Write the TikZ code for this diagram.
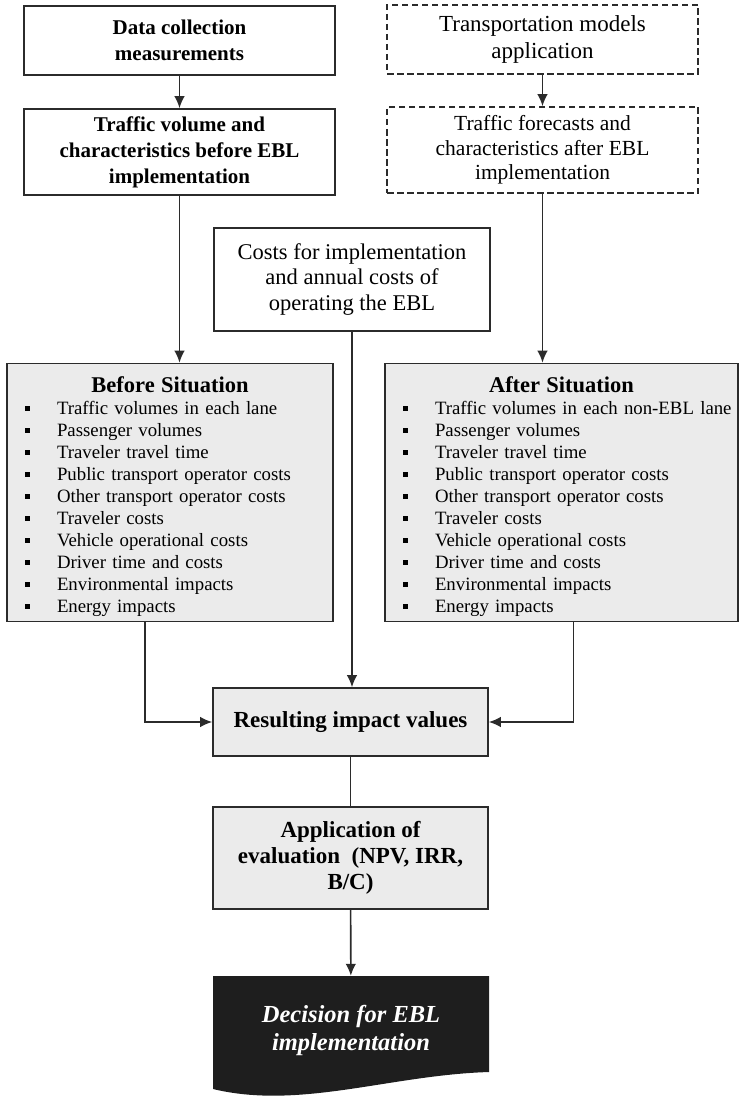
\documentclass[tikz,border=0pt]{standalone}
\usepackage{fontspec}
\setmainfont{Liberation Serif}
\usepackage{tikz}
\usetikzlibrary{shapes,calc,arrows,arrows.meta,positioning}
\definecolor{boxgray}{HTML}{EBEBEB}
\definecolor{decisionblack}{HTML}{1E1E1E}
\definecolor{linegray}{HTML}{2B2B2B}
\tikzstyle{arrow} = [draw=linegray, -{Latex[length=12pt,width=10.5pt]}, line width=1.6pt]
\tikzstyle{link} = [draw=linegray, line width=1.6pt]
\tikzstyle{topbox} = [draw=linegray, line width=1.6pt, rectangle, align=center, inner sep=0pt, minimum width=311pt, font=\fontsize{22}{26}\selectfont]
\tikzstyle{topboldbox} = [topbox, font=\fontsize{21}{26}\selectfont\bfseries]
\tikzstyle{modelbox} = [topbox, dash pattern=on 6.5pt off 3.5pt]
\tikzstyle{sitbox} = [draw=linegray, line width=1.6pt, fill=boxgray, align=left, inner sep=0pt, minimum height=258pt, font=\fontsize{18.8}{22}\selectfont]
\tikzstyle{resultbox} = [draw=linegray, line width=1.6pt, fill=boxgray, align=center, inner sep=0pt, minimum width=275pt, font=\fontsize{23}{26}\selectfont\bfseries]
\tikzstyle{decisiontext} = [align=center, inner sep=0pt, minimum width=276pt, minimum height=109pt, text=white, font=\fontsize{24.5}{28}\selectfont\bfseries\itshape]
\newcommand{\sqitem}[1]{\hspace*{18pt}\makebox[32pt][l]{\rule[4pt]{5pt}{5pt}}#1}
\newcommand{\sithead}[1]{\makebox[\hsize]{\rule{0pt}{25pt}\fontsize{22.5}{22}\selectfont\bfseries #1}}

\begin{document}
\begin{tikzpicture}[x=1pt,y=-1pt]
    \useasboundingbox (0,0) rectangle (739,1097);
    % measured side
    \node[topboldbox, minimum height=69pt] (datacol) at (179.5,40.5) {Data collection\\measurements};
    \node[topboldbox, minimum height=86pt] (trafvol) at (179.5,152) {Traffic volume and\\characteristics before EBL\\implementation};
    % modelled side
    \node[modelbox, minimum height=69pt, font=\fontsize{23}{27}\selectfont] (transmod) at (542.5,39.5) {Transportation models\\application};
    \node[modelbox, minimum height=86pt, font=\fontsize{21.5}{24.5}\selectfont] (trafcast) at (542.5,150) {Traffic forecasts and\\characteristics after EBL\\implementation};
    \node[topbox, minimum width=276pt, minimum height=103pt, font=\fontsize{22.5}{25.5}\selectfont] (costs) at (352,279.5) {Costs for implementation\\and annual costs of\\operating the EBL};
    \node[sitbox, text width=326pt] (before) at (170,492.5) {\sithead{Before Situation}\\
      \sqitem{Traffic volumes in each lane}\\
      \sqitem{Passenger volumes}\\
      \sqitem{Traveler travel time}\\
      \sqitem{Public transport operator costs}\\
      \sqitem{Other transport operator costs}\\
      \sqitem{Traveler costs}\\
      \sqitem{Vehicle operational costs}\\
      \sqitem{Driver time and costs}\\
      \sqitem{Environmental impacts}\\
      \sqitem{Energy impacts}};
    \node[sitbox, text width=353pt] (after) at (561.5,492.5) {\sithead{After Situation}\\
      \sqitem{Traffic volumes in each non-EBL lane}\\
      \sqitem{Passenger volumes}\\
      \sqitem{Traveler travel time}\\
      \sqitem{Public transport operator costs}\\
      \sqitem{Other transport operator costs}\\
      \sqitem{Traveler costs}\\
      \sqitem{Vehicle operational costs}\\
      \sqitem{Driver time and costs}\\
      \sqitem{Environmental impacts}\\
      \sqitem{Energy impacts}};
    \node[resultbox, minimum height=68pt] (result) at (350.5,722) {Resulting impact values};
    \node[resultbox, minimum height=102pt] (evalapp) at (350.5,858) {Application of\\evaluation~ (NPV, IRR,\\B/C)};
    % document shape with wavy bottom
    \fill[decisionblack] (213,976) -- (489,976) -- (489,1072) .. controls (390,1075) and (300,1110) .. (213,1089) -- cycle;
    \node[decisiontext] (decision) at (351,1030.5) {Decision for EBL\\implementation};

    \draw[arrow] (datacol) -- (trafvol);
    \draw[arrow] (transmod) -- (trafcast);
    \draw[arrow] (trafvol.south) -- (trafvol.south |- before.north);
    \draw[arrow] (trafcast.south) -- (trafcast.south |- after.north);
    \draw[arrow] (costs.south) -- (costs.south |- result.north);
    \draw[arrow] ([xshift=-25pt]before.south) |- (result.west);
    \draw[arrow] ([xshift=12pt]after.south) |- (result.east);
    \draw[link] (result) -- (evalapp);
    \draw[arrow] (evalapp) -- (decision);
  \end{tikzpicture}
\end{document}
